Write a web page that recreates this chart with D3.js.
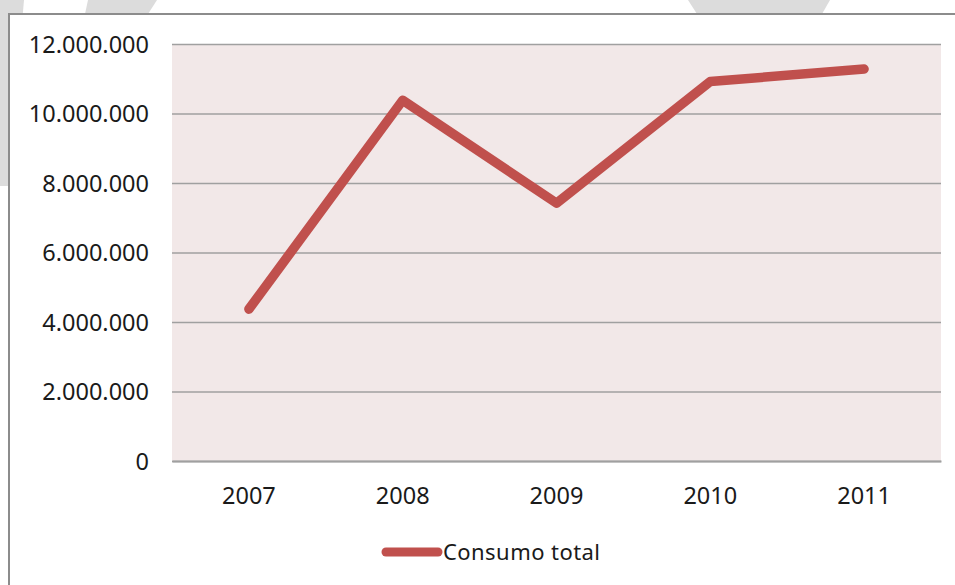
<!DOCTYPE html>
<html><head><meta charset="utf-8">
<script src="https://cdn.jsdelivr.net/npm/d3@7"></script>
<style>html,body{margin:0;padding:0;background:#fff;}svg{display:block;}</style>
</head><body>
<svg id="c" width="955" height="585"></svg>
<script>
const years = ["2007","2008","2009","2010","2011"];
const consumo = [4370000, 10380000, 7420000, 10920000, 11280000];
const yTicks = [0, 2000000, 4000000, 6000000, 8000000, 10000000, 12000000];
const seriesName = "Consumo total";

const svg = d3.select("#c");
// background watermark shapes
const bg = svg.append("g").attr("fill", "#dcdcdc");
bg.append("polygon").attr("points", "0,0 24,0 8,186 0,186");
bg.append("polygon").attr("points", "88,0 157,0 148,14 85,14");
bg.append("polygon").attr("points", "688,0 830,0 822,14 697,14");

// chart box
svg.append("rect").attr("x", 9).attr("y", 14).attr("width", 980).attr("height", 600)
  .attr("fill", "#fff").attr("stroke", "#8c8c8c").attr("stroke-width", 2);

const L = 172, R = 941, T = 44, B = 461;
const x = d3.scaleBand().domain(years).range([L, R]);
const y = d3.scaleLinear().domain([0, 12000000]).range([B, T]);

svg.append("rect").attr("x", L).attr("y", T).attr("width", R - L).attr("height", B - T)
  .attr("fill", "#f2e8e8");

const fmt = v => d3.format(",")(v).replace(/,/g, ".");

const gy = svg.append("g").attr("transform", `translate(${L},0)`)
  .call(d3.axisLeft(y).tickValues(yTicks).tickSize(-(R - L)).tickPadding(23).tickFormat(fmt));
gy.select(".domain").remove();
gy.selectAll(".tick line").attr("stroke", "#a0a0a0").attr("stroke-width", 1.5);
gy.selectAll(".tick text").attr("font-family", "Noto Sans").attr("font-size", 23.5)
  .attr("fill", "#1a1a1a").attr("dy", "0.36em");

const gx = svg.append("g").attr("transform", `translate(0,${B})`)
  .call(d3.axisBottom(x).tickSize(0).tickPadding(26));
gx.select(".domain").attr("stroke", "#a0a0a0").attr("stroke-width", 2);
gx.selectAll(".tick text").attr("font-family", "Noto Sans").attr("font-size", 23.5)
  .attr("fill", "#1a1a1a");

const line = d3.line().x((d, i) => x(years[i]) + x.bandwidth() / 2).y(d => y(d));
svg.append("path").datum(consumo).attr("d", line).attr("fill", "none")
  .attr("stroke", "#c0504d").attr("stroke-width", 9.5)
  .attr("stroke-linecap", "round").attr("stroke-linejoin", "round");

// legend
const lg = svg.append("g");
lg.append("line").attr("x1", 386).attr("x2", 438).attr("y1", 552).attr("y2", 552)
  .attr("stroke", "#c0504d").attr("stroke-width", 9).attr("stroke-linecap", "round");
lg.append("text").attr("x", 443).attr("y", 560).attr("font-family", "Noto Sans")
  .attr("font-size", 22).attr("fill", "#1a1a1a").attr("textLength", 157).text(seriesName);
</script>
</body></html>
